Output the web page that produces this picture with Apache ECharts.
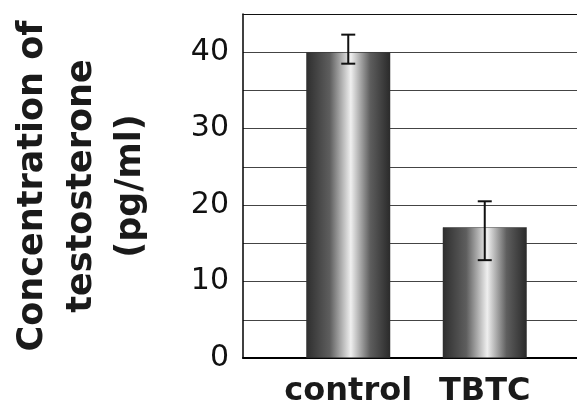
<!DOCTYPE html>
<html>
<head>
<meta charset="utf-8">
<script src="https://cdn.jsdelivr.net/npm/echarts@6/dist/echarts.min.js"></script>
<style>html,body{margin:0;padding:0;background:#fff;}#c{width:577px;height:412px;}</style>
</head>
<body>
<div id="c"></div>
<script>
var categories = ['control', 'TBTC'];
var means = [40.0, 17.1];
var errLow = [38.5, 12.8];
var errHigh = [42.3, 20.5];
var yTicks = [0, 10, 20, 30, 40];
var yTitle = 'Concentration of\ntestosterone\n(pg/ml)';

var chart = echarts.init(document.getElementById('c'), null, {renderer: 'canvas'});
var barGrad = new echarts.graphic.LinearGradient(0, 0, 1, 0, [
  {offset: 0, color: '#2e2e2e'},
  {offset: 0.28, color: '#5e5e5e'},
  {offset: 0.53, color: '#efefef'},
  {offset: 0.76, color: '#5e5e5e'},
  {offset: 1, color: '#2a2a2a'}
]);
var errData = categories.map(function (c, i) { return [i, errLow[i], errHigh[i]]; });

chart.setOption({
  animation: false,
  backgroundColor: '#fff',
  grid: [
    {left: 240, right: -10, top: 14, bottom: 54},
    {left: 280, right: 24, top: 14, bottom: 54}
  ],
  xAxis: [
    {gridIndex: 0, type: 'value', min: 0, max: 1, position: 'bottom',
     axisLine: {show: true, onZero: false, lineStyle: {color: '#000', width: 2}},
     axisTick: {show: false}, axisLabel: {show: false}, splitLine: {show: false}},
    {gridIndex: 0, type: 'value', min: 0, max: 1, position: 'top',
     axisLine: {show: true, onZero: false, lineStyle: {color: '#111', width: 1}},
     axisTick: {show: false}, axisLabel: {show: false}, splitLine: {show: false}},
    {gridIndex: 1, type: 'category', data: categories,
     axisLine: {show: false}, axisTick: {show: false}, splitLine: {show: false},
     axisLabel: {show: true, interval: 0, hideOverlap: false, margin: 18, color: '#1a1a1a', fontSize: 32, fontWeight: 'bold',
       fontFamily: 'DejaVu Sans'}}
  ],
  yAxis: [
    {gridIndex: 0, type: 'value', min: 0, max: 45, interval: 5,
     axisLine: {show: true, lineStyle: {color: '#000', width: 1.5}},
     axisTick: {show: false},
     splitLine: {show: true, lineStyle: {color: '#444', width: 1}},
     axisLabel: {show: true, margin: 14, color: '#111', fontSize: 30, fontFamily: 'DejaVu Sans',
       padding: [0, 0, 10, 0],
       formatter: function (v) { return yTicks.indexOf(v) >= 0 ? String(v) : ''; }},
     name: yTitle, nameLocation: 'middle', nameRotate: 90, nameGap: 88,
     nameTextStyle: {fontSize: 35, fontWeight: 'bold', fontFamily: 'DejaVu Sans', color: '#1a1a1a', lineHeight: 49, align: 'center'}},
    {gridIndex: 1, type: 'value', min: 0, max: 45, interval: 5, show: false}
  ],
  series: [
    {type: 'bar', xAxisIndex: 2, yAxisIndex: 1, data: means, barWidth: 84,
     itemStyle: {color: barGrad, borderColor: '#333', borderWidth: 0.5}},
    {type: 'custom', xAxisIndex: 2, yAxisIndex: 1, data: errData, z: 5,
     renderItem: function (params, api) {
       var top = api.coord([api.value(0), api.value(2)]);
       var bot = api.coord([api.value(0), api.value(1)]);
       var hw = 7;
       var st = {stroke: '#111', lineWidth: 2};
       return {type: 'group', children: [
         {type: 'line', shape: {x1: top[0], y1: top[1], x2: bot[0], y2: bot[1]}, style: st},
         {type: 'line', shape: {x1: top[0] - hw, y1: top[1], x2: top[0] + hw, y2: top[1]}, style: st},
         {type: 'line', shape: {x1: bot[0] - hw, y1: bot[1], x2: bot[0] + hw, y2: bot[1]}, style: st}
       ]};
     }}
  ]
});
</script>
</body>
</html>
